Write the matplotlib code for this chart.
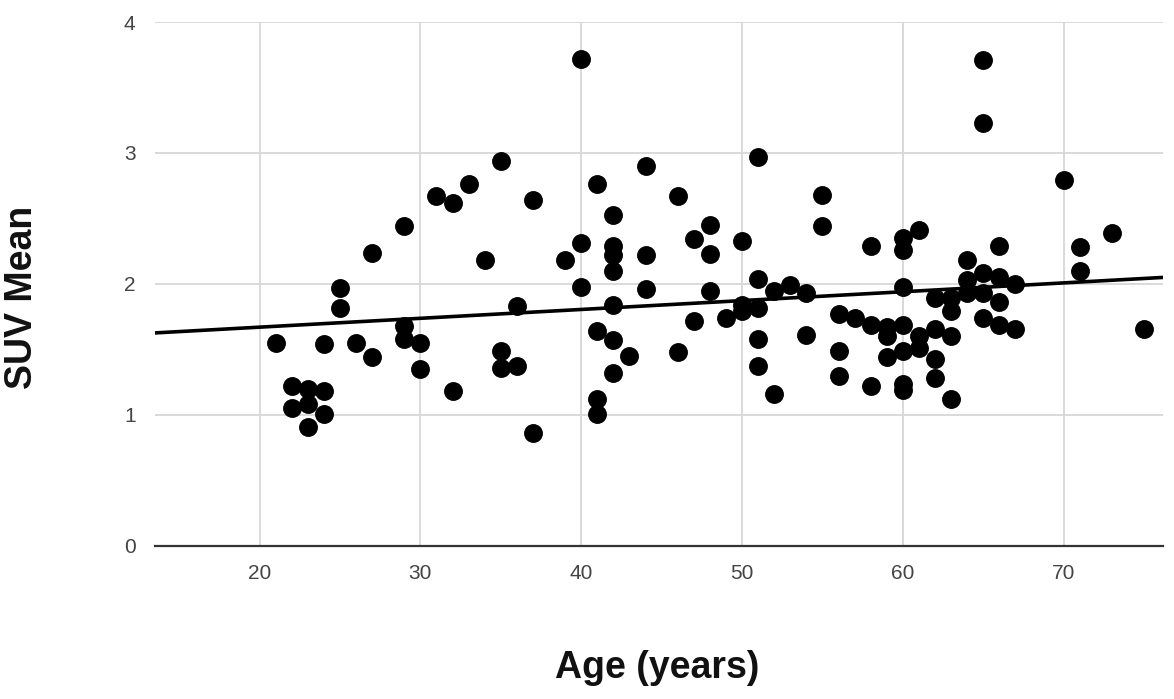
import matplotlib.pyplot as plt
import numpy as np

# age (years) and SUV mean
age = [21, 22, 22, 23, 23, 23, 24, 24, 24, 25, 25, 26, 27, 27,
       29, 29, 29, 30, 30, 31, 32, 32, 33, 34, 35, 35, 35, 36, 36,
       37, 37, 39, 40, 40, 40, 41, 41, 41, 41,
       42, 42, 42, 42, 42, 42, 42, 43, 44, 44, 44, 46, 46, 47, 47,
       48, 48, 48, 49, 50, 50, 50, 51, 51, 51, 51, 51, 52, 52, 53,
       54, 54, 55, 55, 56, 56, 56, 57, 58, 58, 58, 59, 59, 59,
       60, 60, 60, 60, 60, 60, 60, 61, 61, 61, 62, 62, 62, 62,
       63, 63, 63, 63, 64, 64, 64, 65, 65, 65, 65, 65,
       66, 66, 66, 66, 67, 67, 70, 71, 71, 73, 75]
suv = [1.55, 1.22, 1.05, 1.20, 1.08, 0.91, 1.18, 1.01, 1.54, 1.97, 1.82, 1.55, 2.24, 1.44,
       2.44, 1.68, 1.58, 1.55, 1.35, 2.67, 2.62, 1.18, 2.76, 2.18, 2.94, 1.49, 1.36, 1.83, 1.37,
       2.64, 0.86, 2.18, 3.72, 2.31, 1.98, 2.76, 1.64, 1.12, 1.01,
       2.53, 2.29, 2.22, 2.10, 1.84, 1.57, 1.32, 1.45, 2.90, 2.22, 1.96, 2.67, 1.48, 2.34, 1.72,
       2.45, 2.23, 1.95, 1.74, 2.33, 1.84, 1.79, 2.97, 2.04, 1.82, 1.58, 1.37, 1.95, 1.16, 1.99,
       1.93, 1.61, 2.68, 2.44, 1.77, 1.49, 1.30, 1.74, 2.29, 1.69, 1.22, 1.67, 1.60, 1.44,
       2.35, 2.26, 1.98, 1.69, 1.49, 1.24, 1.19, 2.41, 1.60, 1.51, 1.89, 1.66, 1.43, 1.28,
       1.89, 1.79, 1.60, 1.12, 2.18, 2.03, 1.93, 3.71, 3.23, 2.08, 1.93, 1.74,
       2.29, 2.05, 1.86, 1.69, 2.00, 1.66, 2.79, 2.28, 2.10, 2.39, 1.66]

# trend line
trend_slope = 0.00676
trend_intercept = 1.535

x_ticks = [20, 30, 40, 50, 60, 70]
y_ticks = [0, 1, 2, 3, 4]

plt.rcParams['font.family'] = ['Liberation Sans', 'DejaVu Sans']

fig = plt.figure(figsize=(11.74, 6.99), dpi=100)
ax = fig.add_axes([0.132, 0.219, 0.859, 0.7495])

ax.scatter(age, suv, s=185, color='black', zorder=3, linewidths=0)

xlim = (13.5, 76.2)
xs = np.array(xlim)
ax.plot(xs, trend_intercept + trend_slope * xs, color='black', lw=2.6, zorder=4)

ax.set_xlim(*xlim)
ax.set_ylim(0, 4)
ax.set_xticks(x_ticks)
ax.set_yticks(y_ticks)
ax.grid(True, color='#d9d9d9', lw=1.4)
ax.set_axisbelow(True)
for s in ['top', 'right', 'left']:
    ax.spines[s].set_visible(False)
ax.spines['bottom'].set_color('#333333')
ax.spines['bottom'].set_linewidth(1.6)
ax.spines['bottom'].set_zorder(5)
ax.tick_params(length=0, labelsize=15, labelcolor='#444444')
ax.tick_params(axis='x', pad=13)
ax.tick_params(axis='y', pad=14)

fig.text(0.56, 0.045, 'Age (years)', ha='center', va='center',
         fontsize=27, fontweight='bold', color='#111111')
fig.text(0.019, 0.575, 'SUV Mean', ha='center', va='center',
         rotation=90, fontsize=27, fontweight='bold', color='#111111')

fig.savefig('out.png', dpi=100)
